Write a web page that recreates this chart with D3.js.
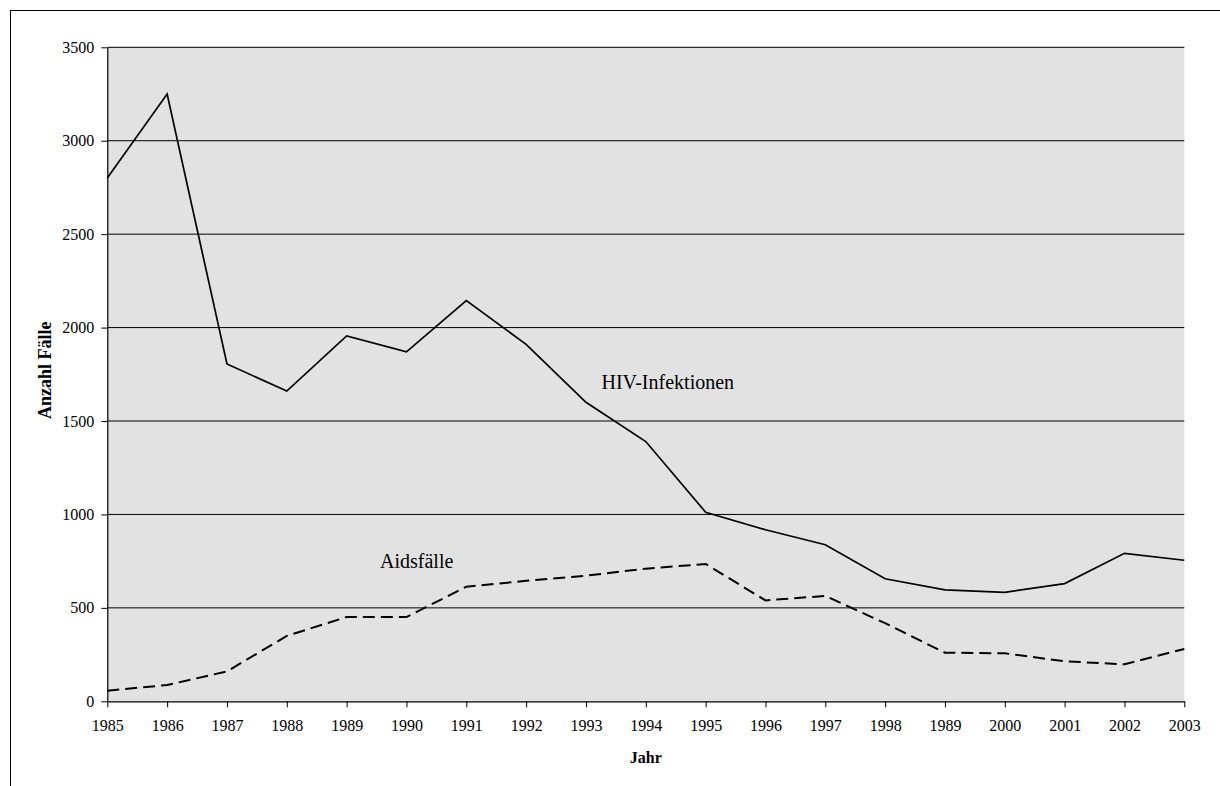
<!DOCTYPE html>
<html>
<head>
<meta charset="utf-8">
<script src="https://cdn.jsdelivr.net/npm/d3@7"></script>
<style>
  html, body { margin: 0; padding: 0; background: #fff; }
  svg { display: block; }
  svg text { font-family: "Liberation Serif", "Times New Roman", serif; fill: #000; }
</style>
</head>
<body>
<svg id="chart" width="1220" height="786"></svg>
<script>
// Jahreskategorien (die Achsenbeschriftung enthält "1989" an der Stelle von 1999)
const years = ["1985","1986","1987","1988","1989","1990","1991","1992","1993","1994",
               "1995","1996","1997","1998","1989","2000","2001","2002","2003"];
// HIV-Infektionen je Jahr
const hivValues = [2800, 3250, 1805, 1660, 1955, 1870, 2145, 1910, 1600, 1390,
                   1012, 918, 838, 656, 596, 583, 630, 792, 755];
// Aidsfälle je Jahr
const aidsValues = [57, 87, 160, 350, 451, 451, 613, 645, 672, 710,
                    735, 540, 564, 418, 260, 257, 214, 198, 280];
const yTicks = [0, 500, 1000, 1500, 2000, 2500, 3000, 3500];

const serif = '"Liberation Serif", "Times New Roman", serif';
const svg = d3.select("#chart");

// Rahmen um das Diagramm
svg.append("rect")
  .attr("x", 10.5).attr("y", 10.5)
  .attr("width", 1400).attr("height", 1000)
  .attr("fill", "none").attr("stroke", "#000").attr("stroke-width", 1);

const plot = { left: 107.3, right: 1184.3, top: 47.3, bottom: 701.3 };

const x = d3.scalePoint()
  .domain(d3.range(years.length))
  .range([plot.left, plot.right]);

const y = d3.scaleLinear()
  .domain([0, 3500])
  .range([plot.bottom, plot.top]);

// Zeichenfläche
svg.append("rect")
  .attr("x", plot.left).attr("y", plot.top)
  .attr("width", plot.right - plot.left)
  .attr("height", plot.bottom - plot.top)
  .attr("fill", "#e2e2e2");

// Gitterlinien
svg.append("g")
  .selectAll("line")
  .data(yTicks.filter(d => d > 0))
  .join("line")
  .attr("x1", plot.left).attr("x2", plot.right)
  .attr("y1", d => y(d)).attr("y2", d => y(d))
  .attr("stroke", "#000").attr("stroke-width", 1);

// Y-Achse
const yAxis = svg.append("g")
  .attr("transform", `translate(${plot.left},0)`)
  .call(d3.axisLeft(y).tickValues(yTicks).tickFormat(d3.format("d"))
    .tickSize(6).tickPadding(7).tickSizeOuter(0));
yAxis.attr("font-family", null).attr("font-size", null);
yAxis.select(".domain").attr("stroke", "#000").attr("stroke-width", 1.2);
yAxis.selectAll(".tick line").attr("stroke", "#000");
yAxis.selectAll("text")
  .style("font-family", serif).style("font-size", "16px").attr("fill", "#000");

// X-Achse
const xAxis = svg.append("g")
  .attr("transform", `translate(0,${plot.bottom})`)
  .call(d3.axisBottom(x).tickFormat(i => years[i]).tickSize(6).tickPadding(12).tickSizeOuter(0));
xAxis.attr("font-family", null).attr("font-size", null);
xAxis.select(".domain").attr("stroke", "#000").attr("stroke-width", 1.2);
xAxis.selectAll(".tick line").attr("stroke", "#000");
xAxis.selectAll("text")
  .style("font-family", serif).style("font-size", "16px").attr("fill", "#000");

// Linien
const line = d3.line()
  .x((d, i) => x(i))
  .y(d => y(d));

svg.append("path")
  .datum(hivValues)
  .attr("d", line)
  .attr("fill", "none")
  .attr("stroke", "#000")
  .attr("stroke-width", 1.7)
  .attr("stroke-linejoin", "miter");

svg.append("path")
  .datum(aidsValues)
  .attr("d", line)
  .attr("fill", "none")
  .attr("stroke", "#000")
  .attr("stroke-width", 2)
  .attr("stroke-dasharray", "12,6");

// Reihenbeschriftungen
svg.append("text")
  .attr("x", 601.5).attr("y", 389)
  .style("font-size", "20px")
  .text("HIV-Infektionen");

svg.append("text")
  .attr("x", 380).attr("y", 568)
  .style("font-size", "20px")
  .text("Aidsfälle");

// Achsentitel
svg.append("text")
  .attr("x", (plot.left + plot.right) / 2).attr("y", 763)
  .attr("text-anchor", "middle")
  .style("font-size", "16px").style("font-weight", "bold")
  .text("Jahr");

svg.append("text")
  .attr("transform", `translate(51,${(plot.top + plot.bottom) / 2 - 4}) rotate(-90)`)
  .attr("text-anchor", "middle")
  .style("font-size", "18px").style("font-weight", "bold")
  .text("Anzahl Fälle");
</script>
</body>
</html>
